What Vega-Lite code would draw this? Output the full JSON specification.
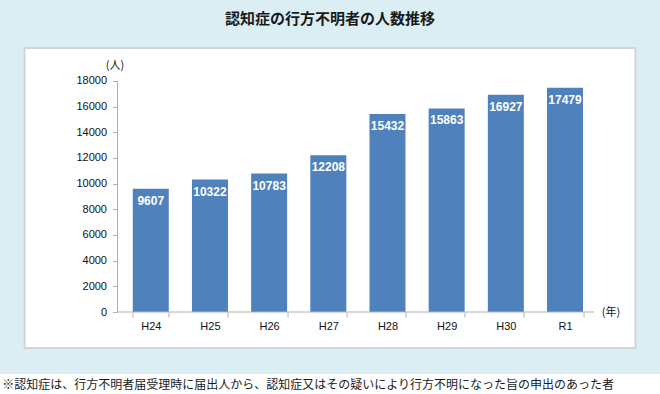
{
  "$schema": "https://vega.github.io/schema/vega-lite/v6.json",
  "background": "#dbeef4",
  "padding": {"top": 12, "left": 0, "right": 0, "bottom": 0},
  "title": {"text": "認知症の行方不明者の人数推移", "anchor": "middle", "font": "Noto Sans CJK JP", "fontSize": 15, "fontWeight": "bold", "color": "#1a1a1a", "offset": 20},
  "bounds": "flush",
  "center": true,
  "spacing": 26,
  "config": {"axis": {"grid": false}},
  "datasets": {
    "counts": [
      {"year": "H24", "count": 9607},
      {"year": "H25", "count": 10322},
      {"year": "H26", "count": 10783},
      {"year": "H27", "count": 12208},
      {"year": "H28", "count": 15432},
      {"year": "H29", "count": 15863},
      {"year": "H30", "count": 16927},
      {"year": "R1", "count": 17479}
    ],
    "note": [
      {"note": "※認知症は、行方不明者届受理時に届出人から、認知症又はその疑いにより行方不明になった旨の申出のあった者"}
    ],
    "single": [{"k": 1}]
  },
  "vconcat": [
    {
      "width": 611,
      "height": 300,
      "view": {"fill": "white", "stroke": "#cfd6d9", "strokeWidth": 2},
      "layer": [
        {
          "data": {"name": "counts"},
          "mark": {"type": "bar", "color": "#4f81bd"},
          "encoding": {
            "x": {
              "field": "year", "type": "nominal", "sort": null,
              "scale": {"domain": ["H24", "H25", "H26", "H27", "H28", "H29", "H30", "R1"], "range": [96.7, 570.1], "paddingInner": 0.3916, "paddingOuter": 0.1958},
              "axis": {
                "title": "(年)", "offset": -36, "domain": false, "tickBand": "extent", "tickSize": 5, "tickColor": "#b0b0b0",
                "labelAngle": 0, "labelFont": "Liberation Sans", "labelFontSize": 11, "labelColor": "#111111", "labelPadding": 3,
                "titleX": 586, "titleY": 0, "titleAlign": "center", "titleBaseline": "middle", "titleFont": "Noto Sans CJK JP", "titleFontSize": 11, "titleFontWeight": "normal", "titleColor": "#111111"
              }
            },
            "y": {
              "field": "count", "type": "quantitative",
              "scale": {"domain": [-2805, 20571], "nice": false, "zero": false},
              "axis": {
                "values": [0, 2000, 4000, 6000, 8000, 10000, 12000, 14000, 16000, 18000], "tickCount": 12, "format": "d", "labelOverlap": false,
                "offset": -93, "domain": false, "tickSize": 5, "tickColor": "#b0b0b0",
                "labelFont": "Liberation Sans", "labelFontSize": 11, "labelColor": "#111111", "labelPadding": 6,
                "title": "(人)", "titleAngle": 0, "titleX": -3, "titleY": 17, "titleAlign": "center", "titleBaseline": "middle", "titleFont": "Noto Sans CJK JP", "titleFontSize": 11, "titleFontWeight": "normal", "titleColor": "#111111"
              }
            },
            "y2": {"datum": 0}
          }
        },
        {
          "data": {"name": "counts"},
          "mark": {"type": "text", "color": "white", "font": "Liberation Sans", "fontSize": 12, "fontWeight": "bold", "baseline": "middle", "dy": 12},
          "encoding": {
            "x": {"field": "year", "type": "nominal", "sort": null},
            "y": {"field": "count", "type": "quantitative"},
            "text": {"field": "count", "type": "quantitative", "format": "d"}
          }
        },
        {
          "data": {"name": "single"},
          "mark": {"type": "rule", "color": "#b0b0b0", "strokeWidth": 1},
          "encoding": {
            "x": {"datum": "H24", "type": "nominal", "bandPosition": -0.425},
            "x2": {"datum": "R1", "bandPosition": 1.306},
            "y": {"datum": 0, "type": "quantitative"}
          }
        },
        {
          "data": {"name": "single"},
          "mark": {"type": "rule", "color": "#b0b0b0", "strokeWidth": 1},
          "encoding": {
            "x": {"datum": "H24", "type": "nominal", "bandPosition": -0.425},
            "y": {"datum": 0, "type": "quantitative"},
            "y2": {"datum": 18000}
          }
        }
      ]
    },
    {
      "width": 660,
      "height": 21,
      "view": {"fill": "white", "stroke": null},
      "data": {"name": "note"},
      "mark": {"type": "text", "font": "Noto Sans CJK JP", "fontSize": 12, "dx": -22, "color": "#1a1a1a"},
      "encoding": {"text": {"field": "note", "type": "nominal"}}
    }
  ]
}
